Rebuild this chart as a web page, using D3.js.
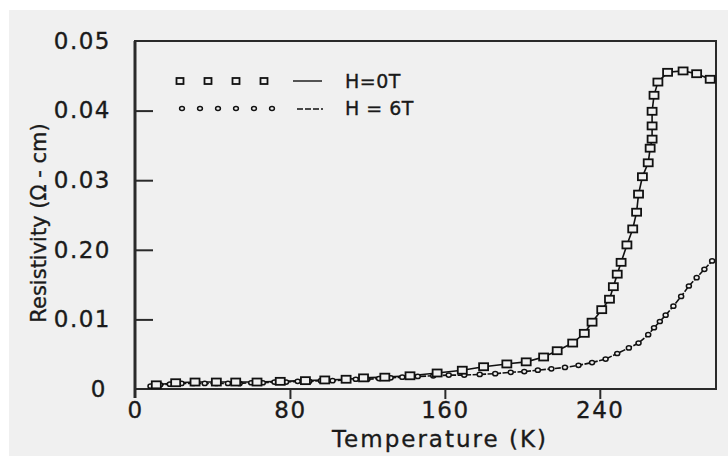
<!DOCTYPE html>
<html>
<head>
<meta charset="utf-8">
<script src="https://d3js.org/d3.v7.min.js"></script>
<style>
  html, body { margin: 0; padding: 0; background: #fff; }
  svg { display: block; }
  text { font-family: "DejaVu Sans", sans-serif; fill: #1a1a1a; stroke: #1a1a1a; stroke-width: 0.35; }
</style>
</head>
<body>
<div id="chart"></div>
<script>
// H = 0T (squares)
const tempH0 = [11, 21, 31, 42, 52, 63, 75, 88, 98, 109, 118, 129, 142, 156, 169, 180, 192, 202,
  211, 218, 226, 232, 236, 241, 245, 247, 249, 251, 254, 257, 259, 260, 262, 265, 266, 267, 267,
  267, 268, 270, 275, 283, 290, 297];
const rhoH0 = [0.0006, 0.0009, 0.0010, 0.0010, 0.0010, 0.0010, 0.0011, 0.0012, 0.0013, 0.0014,
  0.0016, 0.0017, 0.0019, 0.0023, 0.0027, 0.0032, 0.0036, 0.0039, 0.0046, 0.0055, 0.0066, 0.0080,
  0.0096, 0.0114, 0.0129, 0.0147, 0.0165, 0.0182, 0.0207, 0.0230, 0.0254, 0.0280, 0.0305, 0.0325,
  0.0346, 0.0359, 0.0378, 0.0399, 0.0422, 0.0441, 0.0455, 0.0457, 0.0453, 0.0445];

// H = 6T (circles)
const tempH6 = [8, 13, 18, 24, 30, 36, 42, 48, 54, 60, 66, 72, 78, 84, 90, 96, 102, 108, 114, 120,
  126, 132, 138, 146, 154, 162, 170, 178, 186, 194, 201, 208, 215, 222, 229, 236, 243, 249, 255,
  260, 265, 268, 271, 274, 278, 282, 286, 290, 294, 298];
const rhoH6 = [0.0004, 0.0006, 0.0007, 0.0008, 0.0008, 0.0008, 0.0008, 0.0008, 0.0008, 0.0009,
  0.0009, 0.0010, 0.0010, 0.0011, 0.0011, 0.0012, 0.0012, 0.0013, 0.0014, 0.0014, 0.0015, 0.0016,
  0.0017, 0.0018, 0.0019, 0.0020, 0.0020, 0.0021, 0.0022, 0.0024, 0.0025, 0.0027, 0.0029, 0.0031,
  0.0034, 0.0038, 0.0043, 0.0051, 0.0059, 0.0066, 0.0078, 0.0088, 0.0097, 0.0106, 0.0119, 0.0133,
  0.0148, 0.0160, 0.0172, 0.0184];

// axis ticks (labels kept as printed in the figure)
const xTickValues = [0, 80, 160, 240];
const yTickValues = [0, 0.01, 0.02, 0.03, 0.04, 0.05];
const yTickLabels = ["0", "0.01", "0.20", "0.03", "0.04", "0.05"];

const legendLabels = ["H=0T", "H = 6T"];

const width = 728, height = 456;
const margin = { top: 41, right: 12, bottom: 67, left: 135 };
const innerW = width - margin.left - margin.right;
const innerH = height - margin.top - margin.bottom;

const svg = d3.select("#chart").append("svg")
  .attr("width", width)
  .attr("height", height);

// gray page background
svg.append("rect")
  .attr("x", 9).attr("y", 10)
  .attr("width", width - 9).attr("height", height - 10)
  .attr("fill", "#f0f0f0");

const g = svg.append("g")
  .attr("transform", `translate(${margin.left},${margin.top})`);

const x = d3.scaleLinear().domain([0, 300]).range([0, innerW]);
const y = d3.scaleLinear().domain([0, 0.05]).range([innerH, 0]);

// frame
g.append("rect")
  .attr("width", innerW).attr("height", innerH)
  .attr("fill", "none")
  .attr("stroke", "#2a2a2a")
  .attr("stroke-width", 2);
g.append("line")
  .attr("x1", 0).attr("x2", 0).attr("y1", 0).attr("y2", innerH + 9)
  .attr("stroke", "#2a2a2a").attr("stroke-width", 3);

// y axis: ticks pointing inward
const yAxis = d3.axisLeft(y)
  .tickValues(yTickValues)
  .tickSize(-18)
  .tickPadding(24)
  .tickFormat((d, i) => yTickLabels[i]);
const yg = g.append("g").call(yAxis);
yg.select(".domain").remove();
yg.selectAll(".tick line")
  .attr("stroke", "#2a2a2a").attr("stroke-width", 2)
  .filter(d => d === 0 || d === 0.05).remove();
yg.selectAll(".tick text")
  .attr("font-size", 23)
  .attr("font-family", "DejaVu Sans, sans-serif")
  .attr("letter-spacing", 1.5)
  .attr("fill", "#1a1a1a")
  .attr("dx", d => d === 0 ? -4 : 0);

// x axis: short ticks pointing outward
const xAxis = d3.axisBottom(x)
  .tickValues(xTickValues)
  .tickSize(10)
  .tickPadding(3)
  .tickFormat(d3.format("d"));
const xg = g.append("g")
  .attr("transform", `translate(0,${innerH})`)
  .call(xAxis);
xg.select(".domain").remove();
xg.selectAll(".tick line")
  .attr("stroke", "#2a2a2a").attr("stroke-width", 2)
  .filter(d => d === 0).remove();
xg.selectAll(".tick text")
  .attr("font-size", 23)
  .attr("font-family", "DejaVu Sans, sans-serif")
  .attr("letter-spacing", 1.5)
  .attr("fill", "#1a1a1a");

// axis titles
svg.append("text")
  .attr("x", 440).attr("y", 447)
  .attr("text-anchor", "middle")
  .attr("font-size", 23)
  .attr("letter-spacing", 2)
  .text("Temperature (K)");

svg.append("text")
  .attr("transform", "translate(46,223) rotate(-90)")
  .attr("text-anchor", "middle")
  .attr("font-size", 21)
  .text("Resistivity (\u03A9 - cm)");

// data
const dataH0 = tempH0.map((t, i) => ({ t, r: rhoH0[i] }));
const dataH6 = tempH6.map((t, i) => ({ t, r: rhoH6[i] }));
const line = d3.line().x(d => x(d.t)).y(d => y(d.r));

g.append("path")
  .datum(dataH6)
  .attr("d", line)
  .attr("fill", "none")
  .attr("stroke", "#111")
  .attr("stroke-width", 1.6)
  .attr("stroke-dasharray", "6,1.5");

g.append("path")
  .datum(dataH0)
  .attr("d", line)
  .attr("fill", "none")
  .attr("stroke", "#111")
  .attr("stroke-width", 1.6);

g.selectAll(".pt6")
  .data(dataH6)
  .enter().append("ellipse")
  .attr("class", "pt6")
  .attr("cx", d => x(d.t))
  .attr("cy", d => y(d.r))
  .attr("rx", 2.5).attr("ry", 2.1)
  .attr("fill", "#f0f0f0")
  .attr("stroke", "#111")
  .attr("stroke-width", 1.5);

g.selectAll(".pt0")
  .data(dataH0)
  .enter().append("rect")
  .attr("class", "pt0")
  .attr("x", d => x(d.t) - 4.5)
  .attr("y", d => y(d.r) - 3.5)
  .attr("width", 9).attr("height", 7)
  .attr("fill", "#f0f0f0")
  .attr("stroke", "#111")
  .attr("stroke-width", 1.8);

// legend
const legendSquares = [180, 208, 236, 264];
const legendCircles = [182, 200, 218, 236, 254, 272];
const lg = svg.append("g");
lg.selectAll(".lsq").data(legendSquares).enter().append("rect")
  .attr("x", d => d - 3.5).attr("y", 78)
  .attr("width", 7).attr("height", 6)
  .attr("fill", "none").attr("stroke", "#111").attr("stroke-width", 1.8);
lg.selectAll(".lci").data(legendCircles).enter().append("ellipse")
  .attr("cx", d => d).attr("cy", 108.5)
  .attr("rx", 2.4).attr("ry", 2)
  .attr("fill", "none").attr("stroke", "#111").attr("stroke-width", 1.5);
lg.append("line")
  .attr("x1", 293).attr("x2", 322).attr("y1", 81).attr("y2", 81)
  .attr("stroke", "#111").attr("stroke-width", 1.4);
lg.append("line")
  .attr("x1", 297).attr("x2", 323).attr("y1", 109).attr("y2", 109)
  .attr("stroke", "#111").attr("stroke-width", 1.4)
  .attr("stroke-dasharray", "6,2");
lg.selectAll(".ltx").data(legendLabels).enter().append("text")
  .attr("x", 345)
  .attr("y", (d, i) => 88 + i * 27)
  .attr("font-size", 19)
  .attr("letter-spacing", 0.5)
  .text(d => d);
</script>
</body>
</html>
